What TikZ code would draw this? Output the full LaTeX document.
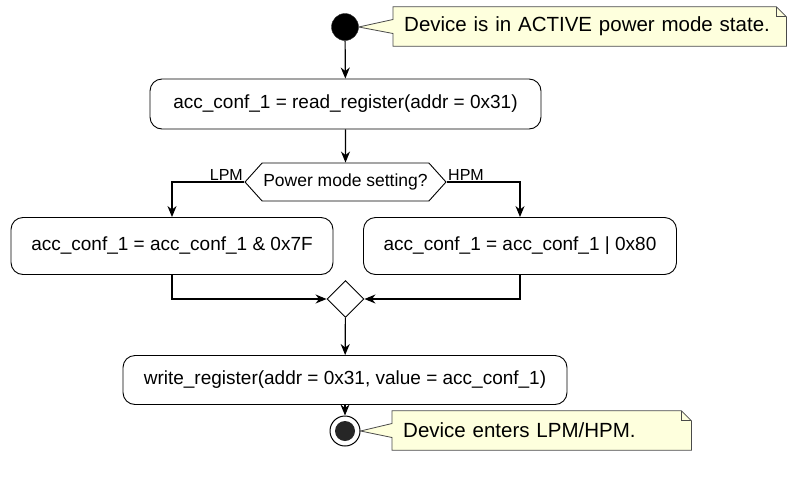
\documentclass[tikz,border=0pt]{standalone}
\usepackage{fontspec}
\setmainfont{Liberation Sans}
\usetikzlibrary{arrows.meta,shapes.geometric,shapes.symbols,calc,backgrounds}

\definecolor{notebg}{HTML}{FEFFDD}
\definecolor{noteline}{HTML}{4A4A4A}

\tikzset{
  action/.style={draw, rounded corners=12pt, fill=white, line width=0.9pt,
    inner sep=0pt, minimum height=50pt, font=\fontsize{19}{22}\selectfont},
  choice/.style={draw, signal, signal to=west and east, signal pointer angle=96,
    fill=white, line width=0.9pt, inner sep=0pt, minimum width=201pt,
    minimum height=38pt, font=\fontsize{17.5}{20}\selectfont},
  merge/.style={draw, diamond, fill=white, line width=0.9pt, inner sep=0pt,
    minimum size=37pt},
  startdot/.style={circle, fill=black, draw=black!80, inner sep=0pt, minimum size=27pt},
  stopdot/.style={circle, draw=black, fill=white, line width=1pt, inner sep=0pt,
    minimum size=30pt, path picture={\fill[black!85] (path picture bounding box.center) circle (10pt);}},
  flow/.style={-{Stealth[length=11pt,width=9pt,inset=3.5pt]}, line width=1.2pt},
  notetext/.style={anchor=west, align=left, inner xsep=11pt, inner ysep=0pt,
    minimum height=39pt, font=\fontsize{20.5}{23}\selectfont},
  notepath/.style={fill=notebg, draw=noteline, line width=0.8pt},
  lbl/.style={inner sep=1pt, font=\fontsize{16}{18}\selectfont},
}

\begin{document}
\begin{tikzpicture}[x=1pt,y=-1pt]
 \useasboundingbox (0,0) rectangle (787,477);

 % activity nodes
 \node[startdot] (start) at (345,27) {};
 \node[action, minimum width=391pt] (read) at (345.5,104) {acc\_conf\_1 = read\_register(addr = 0x31)};
 \node[choice] (mode) at (345.5,182) {Power mode setting?};
 \node[action, minimum width=322pt, minimum height=57pt] (lpm) at (172,246) {acc\_conf\_1 = acc\_conf\_1 \& 0x7F};
 \node[action, minimum width=313pt, minimum height=57pt] (hpm) at (520,246) {acc\_conf\_1 = acc\_conf\_1 | 0x80};
 \node[merge] (join) at (345.5,299) {};
 \node[action, minimum width=444pt, minimum height=49pt] (write) at (345,380) {write\_register(addr = 0x31, value = acc\_conf\_1)};
 \node[stopdot] (stop) at (345,431) {};

 % notes
 \node[notetext, text width=371pt] (note1) at (393,26.5) {Device is in ACTIVE power mode state.};
 \node[notetext, text width=277pt] (note2) at (392,430.5) {Device enters LPM/HPM.};
 \begin{scope}[on background layer]
  \filldraw[notepath] (note1.north west) -- ($(note1.north east)+(-10,0)$) -- ($(note1.north east)+(0,10)$)
   -- (note1.south east) -- (note1.south west) -- ($(note1.west)+(0,7)$) -- (start.east)
   -- ($(note1.west)+(0,-7)$) -- cycle;
  \draw[notepath, fill=none] ($(note1.north east)+(-10,0)$) |- ($(note1.north east)+(0,10)$);
  \filldraw[notepath] (note2.north west) -- ($(note2.north east)+(-10,0)$) -- ($(note2.north east)+(0,10)$)
   -- (note2.south east) -- (note2.south west) -- ($(note2.west)+(0,7)$) -- (stop.east)
   -- ($(note2.west)+(0,-7)$) -- cycle;
  \draw[notepath, fill=none] ($(note2.north east)+(-10,0)$) |- ($(note2.north east)+(0,10)$);
 \end{scope}

 % connectors
 \draw[flow] (start) -- (read);
 \draw[flow] (read) -- (mode);
 \draw[flow] (mode.west) node[lbl, anchor=south east] (lpmlabel) {LPM} -| (lpm.north);
 \draw[flow] (mode.east) node[lbl, anchor=south west] (hpmlabel) {HPM} -| (hpm.north);
 \draw[flow] (lpm.south) |- (join.west);
 \draw[flow] (hpm.south) |- (join.east);
 \draw[flow] (join) -- (write);
 \draw[flow] (write) -- (stop);
\end{tikzpicture}
\end{document}
